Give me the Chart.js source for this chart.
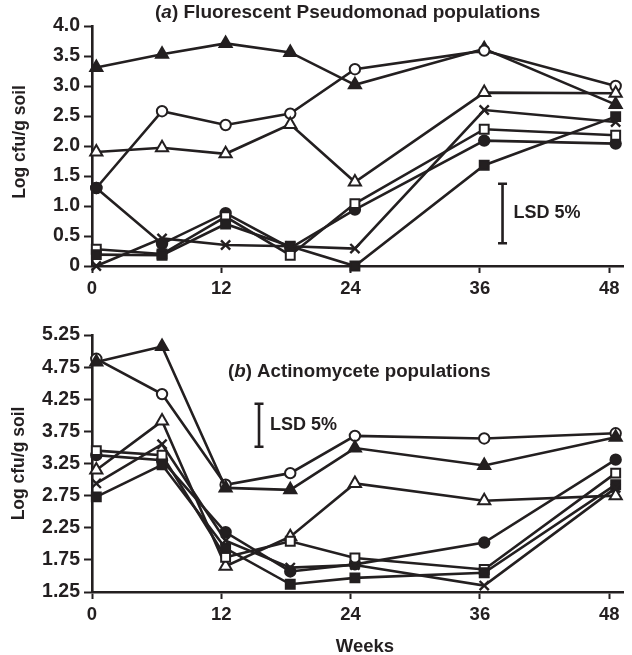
<!DOCTYPE html>
<html>
<head>
<meta charset="utf-8">
<script src="https://cdn.jsdelivr.net/npm/chart.js@4.4.0/dist/chart.umd.min.js"></script>
<style>
  body { margin: 0; background: #fff; }
  #wrap { position: relative; width: 632px; height: 655px; }
  .panel { position: absolute; left: 0; width: 632px; }
</style>
</head>
<body>
<div id="wrap">
  <div class="panel" style="top:0;height:300px"><canvas id="chartA"></canvas></div>
  <div class="panel" style="top:300px;height:355px"><canvas id="chartB"></canvas></div>
</div>
<script>
// sampling times (weeks) as plotted
const weeks = [0.4, 6.5, 12.4, 18.4, 24.4, 36.4, 48.6];
const weekTicks = [0, 12, 24, 36, 48];

// (a) fluorescent pseudomonads, log cfu/g soil
const pseudoFilledTri  = [3.31, 3.53, 3.71, 3.56, 3.02, 3.62, 2.69];
const pseudoOpenCircle = [1.30, 2.58, 2.35, 2.54, 3.28, 3.59, 3.00];
const pseudoOpenTri    = [1.90, 1.97, 1.87, 2.36, 1.40, 2.89, 2.88];
const pseudoFilledCirc = [1.30, 0.37, 0.88, 0.30, 0.94, 2.09, 2.04];
const pseudoOpenSquare = [0.28, 0.20, 0.82, 0.18, 1.04, 2.28, 2.18];
const pseudoFilledSq   = [0.19, 0.18, 0.70, 0.33, 0.00, 1.68, 2.49];
const pseudoCross      = [0.00, 0.46, 0.35, 0.33, 0.29, 2.60, 2.40];
const ticksA = [0, 0.5, 1, 1.5, 2, 2.5, 3, 3.5, 4];

// (b) actinomycetes, log cfu/g soil
const actinoOpenCircle = [4.88, 4.33, 2.92, 3.10, 3.68, 3.64, 3.72];
const actinoFilledTri  = [4.83, 5.07, 2.87, 2.84, 3.49, 3.22, 3.66];
const actinoOpenTri    = [3.15, 3.91, 1.65, 2.11, 2.94, 2.67, 2.75];
const actinoOpenSquare = [3.45, 3.38, 1.79, 2.04, 1.78, 1.60, 3.10];
const actinoFilledCirc = [3.38, 3.30, 2.18, 1.57, 1.68, 2.02, 3.31];
const actinoFilledSq   = [2.73, 3.23, 1.93, 1.37, 1.47, 1.55, 2.92];
const actinoCross      = [2.94, 3.55, 2.05, 1.63, 1.67, 1.35, 2.87];
const ticksB = [1.25, 1.75, 2.25, 2.75, 3.25, 3.75, 4.25, 4.75, 5.25];

// LSD 5% bars: [week, low, high]
const lsdA = [38.1, 0.38, 1.37];
const lsdB = [15.5, 3.51, 4.18];

const INK = '#231f20';
const FONT = '"Liberation Sans", Arial, Helvetica, sans-serif';
const RADIUS = { circle: 5.2, triangle: 7, rect: 6.3, crossRot: 6.5 };

function series(values, style, filled) {
  return {
    data: values.map((v, i) => ({ x: weeks[i], y: v })),
    showLine: true,
    tension: 0,
    borderColor: INK,
    borderWidth: 2.6,
    pointStyle: style,
    pointRadius: RADIUS[style],
    pointHoverRadius: RADIUS[style],
    pointBackgroundColor: filled ? INK : '#fff',
    pointBorderColor: INK,
    pointBorderWidth: style === 'crossRot' ? 2.4 : 2,
    clip: false
  };
}

// draws titles, axis title, LSD bar
const annot = {
  id: 'annot',
  afterDraw(chart, args, o) {
    const { ctx, scales: { x, y } } = chart;
    ctx.save();
    ctx.fillStyle = INK;
    ctx.strokeStyle = INK;
    ctx.textBaseline = 'middle';

    // panel title, with italic letter
    let tx = o.titleX;
    o.title.forEach(([txt, it]) => {
      ctx.font = (it ? 'italic ' : '') + 'bold ' + o.titleSize + 'px ' + FONT;
      ctx.textAlign = 'left';
      ctx.fillText(txt, tx, o.titleY);
      tx += ctx.measureText(txt).width;
    });

    // LSD bar
    const bx = x.getPixelForValue(o.lsd[0]);
    const y1 = y.getPixelForValue(o.lsd[1]);
    const y2 = y.getPixelForValue(o.lsd[2]);
    ctx.lineWidth = 2.6;
    ctx.beginPath();
    ctx.moveTo(bx, y1); ctx.lineTo(bx, y2);
    ctx.moveTo(bx - 4.5, y1); ctx.lineTo(bx + 4.5, y1);
    ctx.moveTo(bx - 4.5, y2); ctx.lineTo(bx + 4.5, y2);
    ctx.stroke();
    ctx.font = 'bold 18px ' + FONT;
    ctx.fillText('LSD 5%', bx + 11, (y1 + y2) / 2);

    // y axis title
    ctx.save();
    ctx.translate(o.yTitleX, (chart.chartArea.top + chart.chartArea.bottom) / 2 + o.yTitleShift);
    ctx.rotate(-Math.PI / 2);
    ctx.textAlign = 'center';
    ctx.font = 'bold 17.5px ' + FONT;
    ctx.fillText('Log cfu/g soil', 0, 0);
    ctx.restore();

    if (o.xTitle) {
      ctx.textAlign = 'center';
      ctx.font = 'bold 18.5px ' + FONT;
      ctx.fillText(o.xTitle, o.xTitleX, o.xTitleY);
    }
    ctx.restore();
  }
};

function makeChart(id, datasets, yTicks, yFmt, topPad, xAxisH, annotOpts) {
  return new Chart(document.getElementById(id), {
    type: 'scatter',
    data: { datasets },
    options: {
      responsive: true,
      maintainAspectRatio: false,
      animation: false,
      events: [],
      layout: { padding: { top: topPad, left: 0, right: 0, bottom: 0 } },
      plugins: { legend: { display: false }, tooltip: { enabled: false }, annot: annotOpts },
      scales: {
        x: {
          type: 'linear', min: 0, max: 49.28,
          afterBuildTicks: s => { s.ticks = weekTicks.map(v => ({ value: v })); },
          afterFit: s => { s.height = xAxisH; },
          grid: { drawOnChartArea: false, drawTicks: true, tickLength: 7, tickWidth: 2, tickColor: INK },
          border: { display: true, color: INK, width: 2.6 },
          ticks: { color: INK, padding: 5, maxRotation: 0, autoSkip: false,
                   font: { family: FONT, size: 18.5, weight: 'bold' } }
        },
        y: {
          type: 'linear', min: yTicks[0], max: yTicks[yTicks.length - 1],
          afterBuildTicks: s => { s.ticks = yTicks.map(v => ({ value: v })); },
          afterFit: s => { s.width = 92; },
          grid: { drawOnChartArea: false, drawTicks: true, tickLength: 8, tickWidth: 2, tickColor: INK },
          border: { display: true, color: INK, width: 2.6 },
          ticks: { color: INK, padding: 4, autoSkip: false, callback: yFmt,
                   font: { family: FONT, size: 19.5, weight: 'bold' } }
        }
      }
    },
    plugins: [annot]
  });
}

makeChart('chartA', [
  series(pseudoCross, 'crossRot', false),
  series(pseudoFilledSq, 'rect', true),
  series(pseudoOpenSquare, 'rect', false),
  series(pseudoFilledCirc, 'circle', true),
  series(pseudoOpenTri, 'triangle', false),
  series(pseudoOpenCircle, 'circle', false),
  series(pseudoFilledTri, 'triangle', true)
], ticksA, v => v === 0 ? '0' : v.toFixed(1), 26, 34, {
  title: [['(', false], ['a', true], [') Fluorescent Pseudomonad populations', false]],
  titleX: 155, titleY: 13, titleSize: 19,
  lsd: lsdA, yTitleX: 20, yTitleShift: -4
});

makeChart('chartB', [
  series(actinoCross, 'crossRot', false),
  series(actinoFilledSq, 'rect', true),
  series(actinoOpenSquare, 'rect', false),
  series(actinoFilledCirc, 'circle', true),
  series(actinoOpenTri, 'triangle', false),
  series(actinoFilledTri, 'triangle', true),
  series(actinoOpenCircle, 'circle', false)
], ticksB, v => v.toFixed(2), 35, 63, {
  title: [['(', false], ['b', true], [') Actinomycete populations', false]],
  titleX: 228, titleY: 72, titleSize: 18.7,
  lsd: lsdB, yTitleX: 19, yTitleShift: 0,
  xTitle: 'Weeks', xTitleX: 365, xTitleY: 347
});
</script>
</body>
</html>
